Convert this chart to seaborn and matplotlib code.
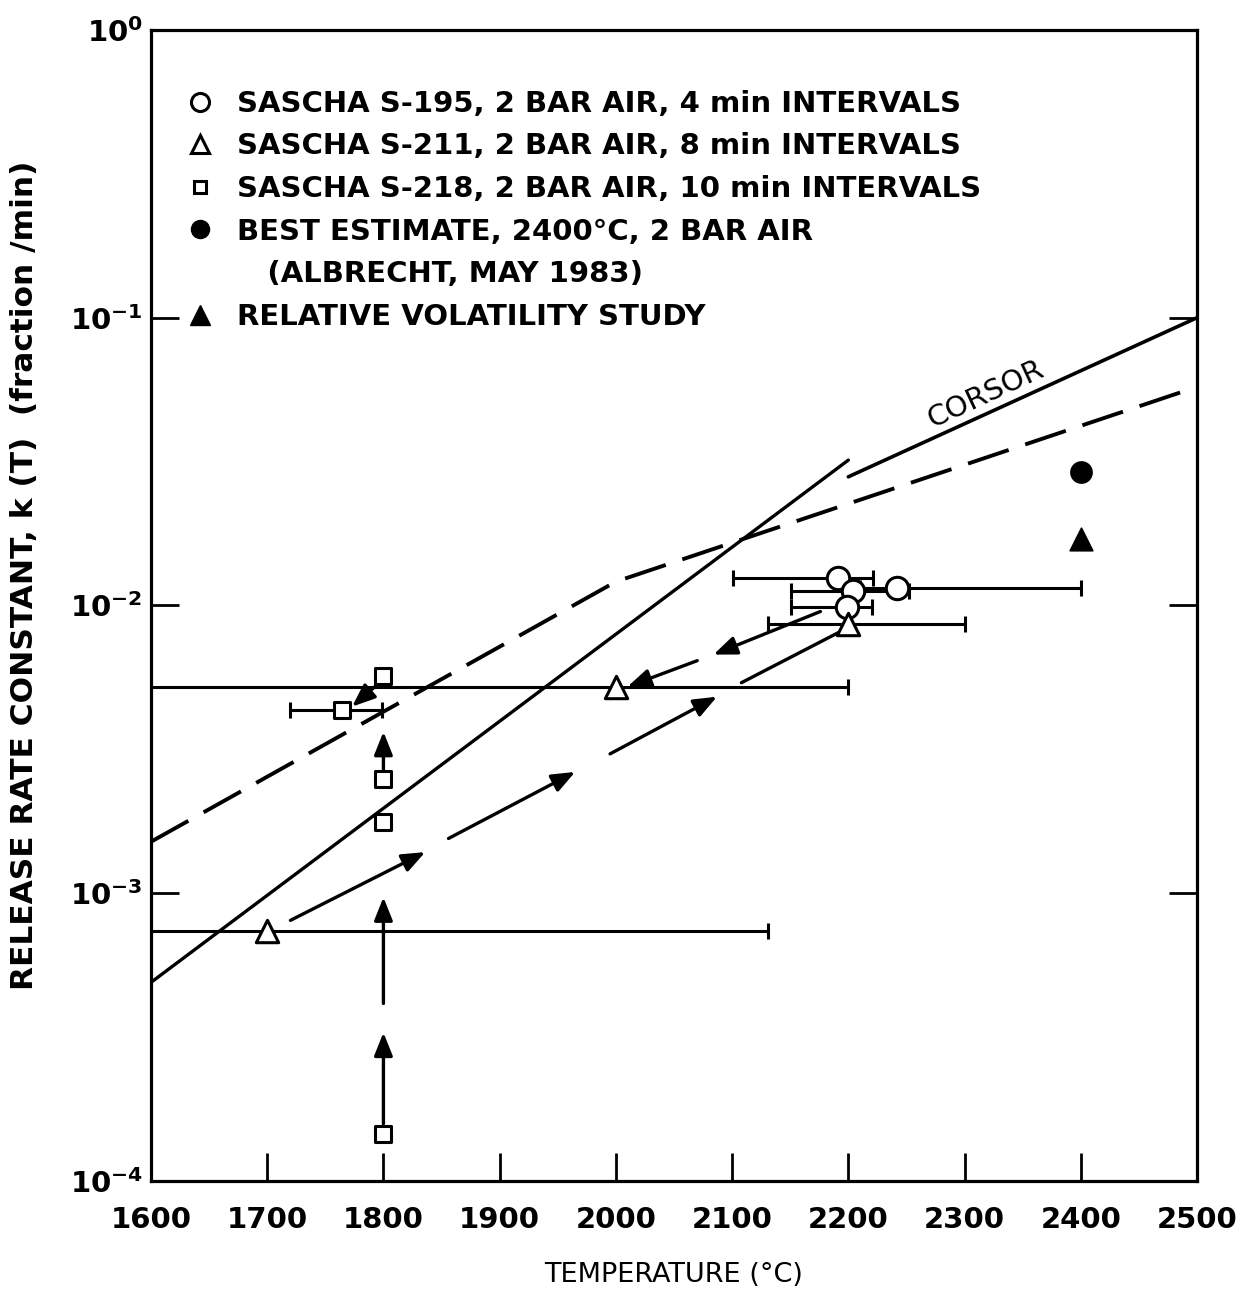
import numpy as np
import pandas as pd
import matplotlib
matplotlib.use("Agg")
import matplotlib.pyplot as plt
import seaborn as sns
from matplotlib.lines import Line2D

# ---------------- data ----------------
steep_T = [1600, 2200]
steep_k = [4.9e-4, 3.2e-2]
corsor_T = [2200, 2500]
corsor_k = [2.8e-2, 1.0e-1]
dashed_T = [1600, 2000, 2500]
dashed_k = [1.51e-3, 1.21e-2, 5.75e-2]

# SASCHA S-195 (open circles) with horizontal bars
s195_T = [2191, 2204, 2242, 2199]
s195_k = [0.0125, 0.0112, 0.0115, 0.0099]
s195_lo = [2101, 2151, 2210, 2151]
s195_hi = [2221, 2252, 2400, 2220]

# SASCHA S-211 (open triangles)
s211_T = [1700, 2000, 2200]
s211_k = [7.4e-4, 5.2e-3, 8.6e-3]
s211_lo = [1500, 1500, 2131]
s211_hi = [2131, 2200, 2300]

# SASCHA S-218 (open squares)
s218_T = [1800, 1764, 1800, 1800, 1800]
s218_k = [5.7e-3, 4.34e-3, 2.5e-3, 1.77e-3, 1.46e-4]
s218_lo = [1800, 1720, 1800, 1800, 1800]
s218_hi = [1800, 1799, 1800, 1800, 1800]

best_T = [2400]
best_k = [0.0291]
relvol_T = [2400]
relvol_k = [0.017]

# arrows: start T, start k, end T, end k, head
arr_T0 = [1720, 1856, 1995, 2108, 2176, 2070, 1800, 1800, 1800, 1794.5]
arr_k0 = [8.05e-4, 1.55e-3, 3.05e-3, 5.39e-3, 9.53e-3, 6.43e-3, 1.58e-4, 4.14e-4, 2.64e-3, 5.3e-3]
arr_T1 = [1836, 1965, 2087, 2193, 2084, 2010, 1800, 1800, 1800, 1773]
arr_k1 = [1.39e-3, 2.64e-3, 4.82e-3, 8.11e-3, 6.75e-3, 5.22e-3, 3.28e-4, 9.68e-4, 3.64e-3, 4.45e-3]
arr_head = [True, True, True, False, True, True, True, True, True, True]

x_ticks = [1600, 1700, 1800, 1900, 2000, 2100, 2200, 2300, 2400, 2500]

legend_labels = [
    "SASCHA S-195, 2 BAR AIR, 4 min INTERVALS",
    "SASCHA S-211, 2 BAR AIR, 8 min INTERVALS",
    "SASCHA S-218, 2 BAR AIR, 10 min INTERVALS",
    "BEST ESTIMATE, 2400\u00b0C, 2 BAR AIR",
    "   (ALBRECHT, MAY 1983)",
    "RELATIVE VOLATILITY STUDY",
]

# ---------------- plotting ----------------
sns.set_theme(style="white")
plt.rcParams['font.family'] = ['DejaVu Sans']
plt.rcParams['mathtext.default'] = 'bf'
plt.rcParams['text.color'] = 'black'
plt.rcParams['axes.labelcolor'] = 'black'
plt.rcParams['xtick.color'] = 'black'
plt.rcParams['ytick.color'] = 'black'

fig = plt.figure(figsize=(12.53, 12.91), dpi=100)
ax = fig.add_axes([0.1205, 0.0852, 0.8348, 0.8916])
ax.set_yscale('log')
ax.set_xlim(1600, 2500)
ax.set_ylim(1e-4, 1)

K = 'black'
sns.lineplot(data=pd.DataFrame({'T': steep_T, 'k': steep_k}), x='T', y='k', ax=ax, color=K, lw=2.4)
sns.lineplot(data=pd.DataFrame({'T': corsor_T, 'k': corsor_k}), x='T', y='k', ax=ax, color=K, lw=2.6)
sns.lineplot(data=pd.DataFrame({'T': dashed_T, 'k': dashed_k}), x='T', y='k', ax=ax,
             color=K, lw=2.8, dashes=False)
ax.lines[-1].set_dashes((11, 4.5))

# error bars
def hbars(T, k, lo, hi):
    T = np.array(T, float); k = np.array(k, float)
    lo = np.array(lo, float); hi = np.array(hi, float)
    ax.errorbar(T, k, xerr=[T - lo, hi - T], fmt='none', ecolor=K,
                elinewidth=2.2, capsize=6, capthick=2.2, zorder=3)

hbars(s195_T, s195_k, s195_lo, s195_hi)
hbars(s211_T, s211_k, s211_lo, s211_hi)
idx = [i for i in range(len(s218_T)) if s218_hi[i] != s218_lo[i]]
hbars([s218_T[i] for i in idx], [s218_k[i] for i in idx],
      [s218_lo[i] for i in idx], [s218_hi[i] for i in idx])

# markers
sns.scatterplot(x=s195_T, y=s195_k, ax=ax, marker='o', s=260, facecolor='white',
                edgecolor=K, linewidth=2.2, zorder=5)
sns.scatterplot(x=s211_T, y=s211_k, ax=ax, marker='^', s=260, facecolor='white',
                edgecolor=K, linewidth=2.2, zorder=5)
sns.scatterplot(x=s218_T, y=s218_k, ax=ax, marker='s', s=130, facecolor='white',
                edgecolor=K, linewidth=2.2, zorder=5)
sns.scatterplot(x=best_T, y=best_k, ax=ax, marker='o', s=230, color=K, edgecolor=K, zorder=5)
sns.scatterplot(x=relvol_T, y=relvol_k, ax=ax, marker='^', s=260, color=K, edgecolor=K, zorder=5)

# arrows
for t0, k0, t1, k1, h in zip(arr_T0, arr_k0, arr_T1, arr_k1, arr_head):
    style = '-|>,head_length=0.7,head_width=0.28' if h else '-'
    ax.annotate('', xy=(t1, k1), xytext=(t0, k0),
                arrowprops=dict(arrowstyle=style, color=K, lw=2.4,
                                mutation_scale=20, shrinkA=0, shrinkB=0),
                zorder=4)

ax.text(2318, 0.054, 'CORSOR', rotation=25, fontsize=21, ha='center', va='center',
        color=K)

# legend
handles = [
    Line2D([], [], ls='none', marker='o', ms=13, mfc='white', mec=K, mew=2.2),
    Line2D([], [], ls='none', marker='^', ms=13, mfc='white', mec=K, mew=2.2),
    Line2D([], [], ls='none', marker='s', ms=9, mfc='white', mec=K, mew=2.2),
    Line2D([], [], ls='none', marker='o', ms=13, mfc=K, mec=K),
    Line2D([], [], ls='none', marker=None),
    Line2D([], [], ls='none', marker='^', ms=14, mfc=K, mec=K),
]
leg = ax.legend(handles, legend_labels, loc='upper left', bbox_to_anchor=(0.0325, 0.948),
                frameon=False, prop={'size': 21, 'weight': 'bold'}, handlelength=1.0,
                handletextpad=0.8, labelspacing=0.5, borderaxespad=0, borderpad=0)

# axes styling
ax.set_xticks(x_ticks)
ax.set_yticks([1e-4, 1e-3, 1e-2, 1e-1, 1])
ax.yaxis.set_minor_locator(matplotlib.ticker.NullLocator())
ax.tick_params(axis='x', direction='in', length=20, width=2, labelsize=21, pad=18,
               bottom=True, top=False)
ax.tick_params(axis='y', direction='in', length=20, width=2, labelsize=21, pad=6,
               left=True, right=True)
for lab in ax.get_xticklabels() + ax.get_yticklabels():
    lab.set_fontweight('bold')
for s in ax.spines.values():
    s.set_linewidth(2.3)
    s.set_color(K)
ax.set_xlabel('TEMPERATURE (\u00b0C)', fontsize=19.5, labelpad=20)
ax.set_ylabel('RELEASE RATE CONSTANT, k (T)  (fraction /min)', fontsize=22.5,
              fontweight='bold')
ax.yaxis.set_label_coords(-0.107, 0.5265)

fig.savefig('out.png', dpi=100)
